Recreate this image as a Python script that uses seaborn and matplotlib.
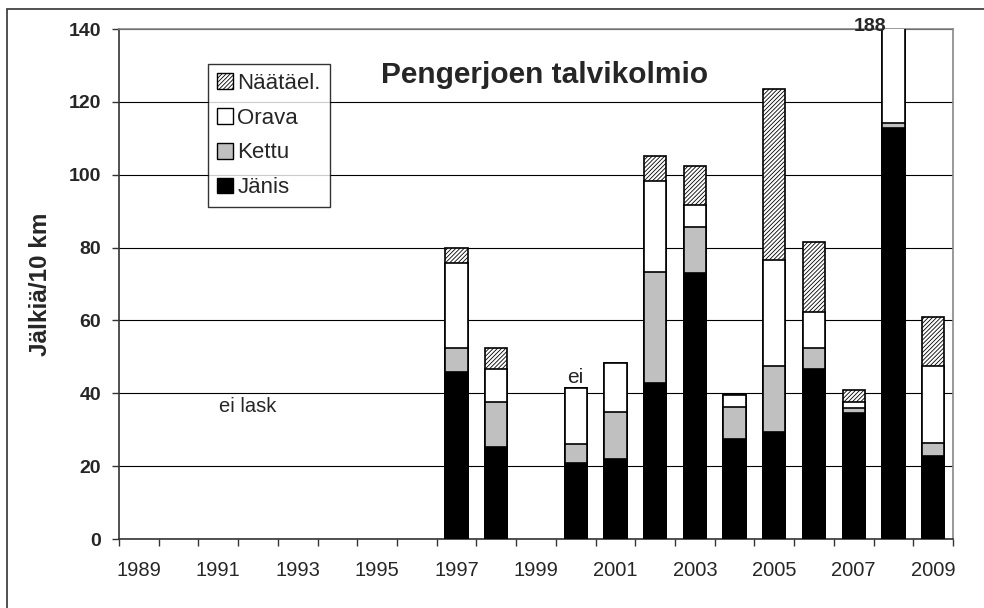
import numpy as np
import pandas as pd
import matplotlib
matplotlib.use("Agg")
import matplotlib.pyplot as plt
import seaborn as sns
from matplotlib.patches import Patch, Rectangle

years = list(range(1989, 2010))
nan = np.nan
janis = [nan]*8 + [45.9, 25.2, nan, 21.0, 22.0, 42.7, 72.9, 27.4, 29.5, 46.8, 34.5, 112.7, 22.9]
kettu = [nan]*8 + [6.6, 12.3, nan, 5.0, 13.0, 30.7, 12.8, 8.7, 18.0, 5.7, 1.4, 1.4, 3.5]
orava = [nan]*8 + [23.2, 9.1, nan, 15.5, 13.2, 24.9, 6.0, 3.4, 29.1, 9.9, 1.6, 73.9, 21.1]
naata = [nan]*8 + [4.2, 5.9, nan, 0.0, 0.0, 6.7, 10.7, 0.0, 46.8, 19.2, 3.4, 0.0, 13.5]
xtick_labels = [str(y) if y % 2 == 1 else "" for y in years]

sns.set_theme(style="white")
plt.rcParams['font.family'] = ['Liberation Sans', 'DejaVu Sans']
plt.rcParams['hatch.linewidth'] = 0.6

df = pd.DataFrame({"year": [str(y) for y in years],
                   "Jänis": janis, "Kettu": kettu, "Orava": orava, "Näätäel.": naata})
df["c1"] = df["Jänis"]
df["c2"] = df["c1"] + df["Kettu"]
df["c3"] = df["c2"] + df["Orava"]
df["c4"] = df["c3"] + df["Näätäel."]

fig = plt.figure(figsize=(9.84, 6.08), dpi=100)
ax = fig.add_axes([119/984, 1 - 539/608, (953-119)/984, (539-29)/608])

order = df["year"].tolist()
bw = 0.56
lw = 1.2
HATCH = "////////"
layers = [("c4", "white", HATCH), ("c3", "white", None), ("c2", "#C0C0C0", None), ("c1", "black", None)]
for col, color, hatch in layers:
    sns.barplot(data=df, x="year", y=col, order=order, color=color, width=bw,
                edgecolor="black", linewidth=lw, hatch=hatch, saturation=1, ax=ax, zorder=3)

ax.set_ylim(0, 140)
ax.set_xlim(-0.5, len(years) - 0.5)
ax.set_yticks(np.arange(0, 141, 20))
ax.set_yticklabels([str(v) for v in range(0, 141, 20)], fontsize=14, fontweight="bold")
ax.yaxis.grid(True, color="black", linewidth=0.8)
ax.set_axisbelow(True)

ax.set_xticks(np.arange(-0.5, len(years), 1.0))
ax.set_xticklabels([])
ax.set_xticks(np.arange(len(years)), minor=True)
ax.set_xticklabels(xtick_labels, minor=True, fontsize=14.5)
ax.tick_params(axis="x", which="major", direction="out", length=5, width=1, color="#333333", bottom=True)
ax.tick_params(axis="x", which="minor", length=0, pad=16, bottom=True)
ax.tick_params(axis="y", direction="out", length=5, width=1, color="#333333", left=True, pad=8)

ax.set_xlabel("")
ax.set_ylabel("Jälkiä/10 km", fontsize=17.5, fontweight="bold", labelpad=12)

for s in ["left", "bottom"]:
    ax.spines[s].set_color("#333333")
    ax.spines[s].set_linewidth(1.2)
for s in ["top", "right"]:
    ax.spines[s].set_color("#888888")
    ax.spines[s].set_linewidth(1.2)

ax.text(0.51, 0.91, "Pengerjoen talvikolmio", transform=ax.transAxes, ha="center", va="center",
        fontsize=21.5, fontweight="bold")
ax.text(order.index("1991") + 0.75, 36.5, "ei lask", ha="center", va="center", fontsize=14.5)
ax.text(order.index("2000"), 44.2, "ei", ha="center", va="center", fontsize=15)
ax.text(order.index("2008") - 0.6, 140.6, "188", ha="center", va="center", fontsize=14,
        fontweight="bold", clip_on=False, zorder=5)

handles = [Patch(facecolor="white", edgecolor="black", hatch=HATCH, label="Näätäel."),
           Patch(facecolor="white", edgecolor="black", label="Orava"),
           Patch(facecolor="#C0C0C0", edgecolor="black", label="Kettu"),
           Patch(facecolor="black", edgecolor="black", label="Jänis")]
leg = ax.legend(handles=handles, loc="upper left", bbox_to_anchor=((208-119)/834, 1 - (64-29)/510),
                fontsize=16, frameon=True, fancybox=False, edgecolor="black", handlelength=0.72,
                handleheight=0.72, handletextpad=0.2, labelspacing=0.62, borderpad=0.4,
                borderaxespad=0)
leg.get_frame().set_linewidth(1.0)
leg.set_zorder(6)

fig.patches.append(Rectangle((7/984, -0.1), 1.2, 1 - 9/608 + 0.1, transform=fig.transFigure,
                             fill=False, edgecolor="#333333", linewidth=1.2))

fig.savefig("out.png", dpi=100)
